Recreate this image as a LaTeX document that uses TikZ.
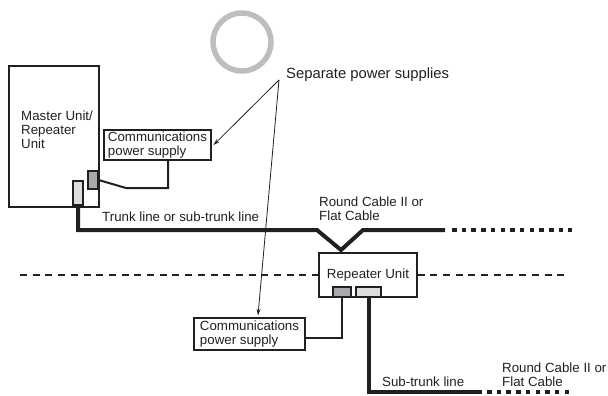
\documentclass[tikz,border=0pt]{standalone}
\usepackage{fontspec}
\setmainfont{Liberation Sans}
\usetikzlibrary{arrows.meta}
\definecolor{ink}{HTML}{231F20}
\definecolor{ringgray}{HTML}{BCBEC0}
\definecolor{darkcon}{HTML}{A7A9AC}
\definecolor{lightcon}{HTML}{DCDDDE}
\tikzset{
  box/.style={draw=ink, line width=1.1pt, inner sep=0pt},
  lbl/.style={font=\fontsize{13.3}{13.5}\selectfont, inner sep=0pt, align=left, anchor=north west},
  psbox/.style={box, font=\fontsize{13.3}{13.5}\selectfont, align=left},
  cable/.style={line width=4pt},
  dotcable/.style={line width=4pt, dash pattern=on 4.5pt off 5.2pt},
  feed/.style={line width=2pt},
  pointer/.style={line width=0.8pt, -{Stealth[length=6.5pt,width=4pt]}}
}
\begin{document}
\begin{tikzpicture}[x=1pt,y=-1pt,ink]
  \useasboundingbox (0,0) rectangle (608,396);
  % power ring
  \draw[ringgray, line width=5.5pt] (242,42) circle[radius=29pt];
  % master unit
  \node[box, minimum width=90pt, minimum height=141pt] (master) at (54,136.5) {};
  \node[lbl, font=\fontsize{13.3}{14}\selectfont] (masterlbl) at (21,111) {Master Unit/\\Repeater\\Unit};
  \node[box, fill=darkcon, minimum width=10pt, minimum height=18pt] (mdark) at (93,180) {};
  \node[box, fill=lightcon, minimum width=10pt, minimum height=24pt] (mlight) at (78,193) {};
  % power supplies
  \node[psbox, minimum width=107pt, minimum height=30pt] (ps1) at (157.5,145) {Communications\\power supply};
  \node[psbox, font=\fontsize{13.3}{14}\selectfont, minimum width=111pt, minimum height=32pt] (ps2) at (249.5,334) {Communications\\power supply};
  % repeater unit
  \node[box, font=\fontsize{13.3}{13.5}\selectfont, minimum width=98pt, minimum height=44pt] (rep) at (368,275) {Repeater Unit};
  \node[box, fill=darkcon, minimum width=18pt, minimum height=10pt] (rdark) at (342,292) {};
  \node[box, fill=lightcon, minimum width=25pt, minimum height=10pt] (rlight) at (368.5,292) {};
  % feeds from the supplies
  \coordinate (ps1link) at (168,188);
  \draw[feed] (mdark.east) -- (126,188) -- (ps1link) -- (ps1link |- ps1.south);
  \coordinate (ps2link) at (342,338);
  \draw[feed] (rdark.south) -- (ps2link) -- (ps2link -| ps2.east);
  % trunk line
  \coordinate (vtip) at (341,250);
  \draw[cable] (mlight.south) |- (317,230) -- (vtip) -- (363,230) -- (445,230);
  \draw[dotcable] (452,230) -- (572,230);
  % sub-trunk line
  \draw[cable] (rlight.south) |- (482,392);
  \draw[dotcable] (487,392) -- (572,392);
  % boundary
  \draw[line width=1.8pt, dash pattern=on 7pt off 5.7pt] (20,275) -- (rep.west);
  \draw[line width=1.8pt, dash pattern=on 7pt off 5.7pt] (rep.east) -- (565,275);
  % labels
  \node[lbl] (trunklbl) at (102,212) {Trunk line or sub-trunk line};
  \node[lbl] (cable1) at (319,197) {Round Cable II or\\Flat Cable};
  \node[lbl] (sublbl) at (382,377) {Sub-trunk line};
  \node[lbl] (cable2) at (502,363) {Round Cable II or\\Flat Cable};
  \node[font=\fontsize{14.8}{16}\selectfont, anchor=west, inner sep=0pt] (septxt) at (286,75) {Separate power supplies};
  \coordinate (sep) at (279,80);
  \draw[pointer] (sep) -- ([xshift=2pt]ps1.east);
  \draw[pointer] (sep) -- ([xshift=8.5pt,yshift=2pt]ps2.north);
\end{tikzpicture}
\end{document}
